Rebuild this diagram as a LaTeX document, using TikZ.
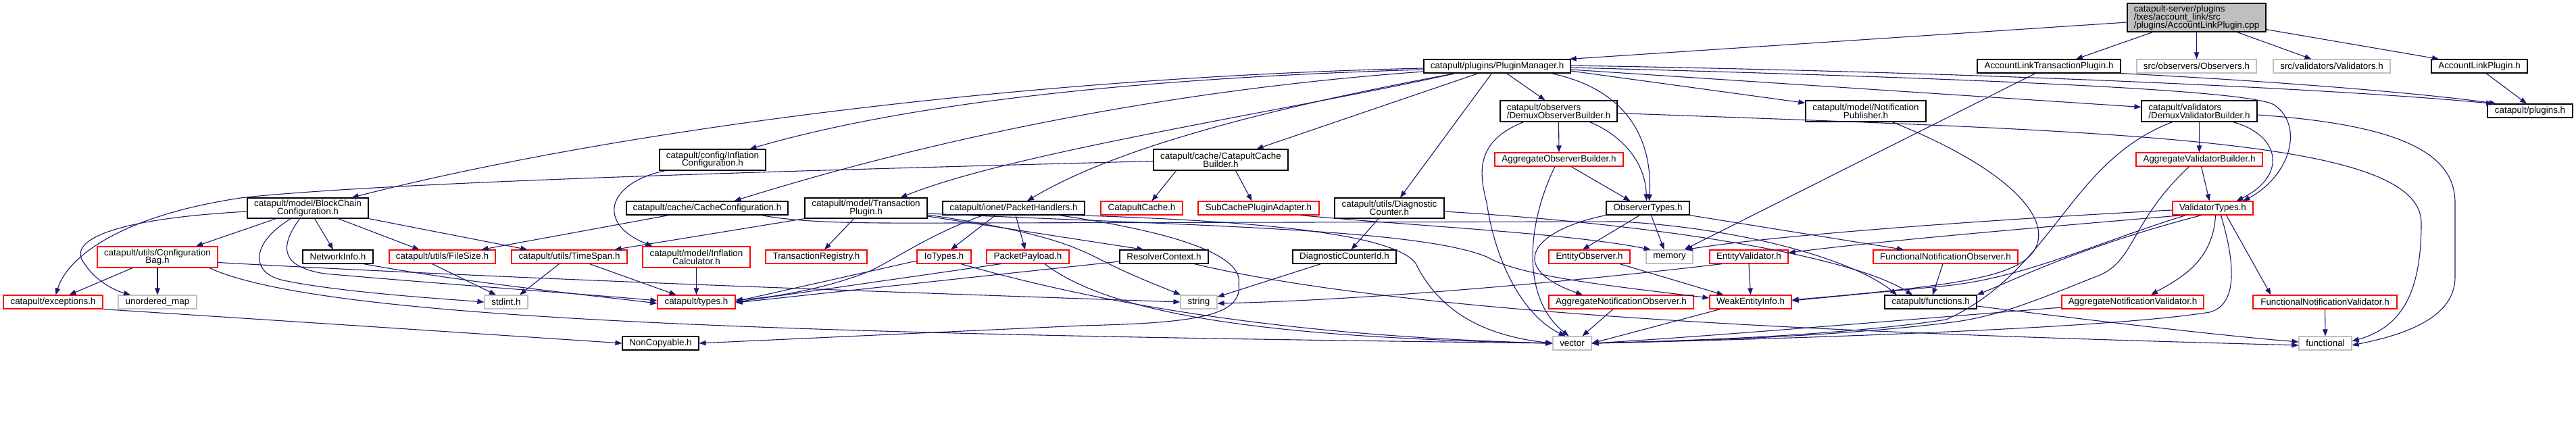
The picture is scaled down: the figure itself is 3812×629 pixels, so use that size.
\documentclass[tikz,border=0pt]{standalone}
\usepackage{fontspec}
\setmainfont{Liberation Sans}
\usetikzlibrary{arrows.meta}
\definecolor{edgec}{HTML}{191970}
\definecolor{grayc}{HTML}{BFBFBF}
\definecolor{redc}{HTML}{FF0000}
\newcommand{\dfont}{\fontsize{13.4}{11.8}\selectfont\lineskiplimit=-20pt\relax}
\begin{document}
\begin{tikzpicture}[x=1pt,y=-1pt,
  box/.style={draw=black, line width=1.2pt, inner sep=0pt, font=\dfont, align=center, text=black},
  rbox/.style={box, draw=redc},
  gbox/.style={box, draw=grayc},
  sz/.style 2 args={minimum width=#1pt, minimum height=#2pt},
  e/.style={draw=edgec, line width=1.1pt, -{Triangle[length=10pt,width=7.5pt]}}]
\useasboundingbox (0,0) rectangle (3812,629);

% ---------- nodes ----------
\node[box, fill=grayc, align=left, sz={205}{42}] (root) at (3250.5,26) {catapult-server/plugins\\/txes/account\_link/src\\/plugins/AccountLinkPlugin.cpp};
\node[box, sz={217}{20}] (pm) at (2215.5,98) {catapult/plugins/PluginManager.h};
\node[box, sz={212}{20}] (altp) at (3032,98) {AccountLinkTransactionPlugin.h};
\node[gbox, sz={177}{20}] (obs) at (3250.5,98) {src/observers/Observers.h};
\node[gbox, sz={173}{20}] (vals) at (3450.5,98) {src/validators/Validators.h};
\node[box, sz={142}{20}] (alp) at (3669,98) {AccountLinkPlugin.h};
\node[box, sz={126}{20}] (plugins) at (3744,164) {catapult/plugins.h};
\node[box, align=left, sz={173}{31}] (dob) at (2306.5,164.5) {catapult/observers\\/DemuxObserverBuilder.h};
\node[box, sz={178}{31}] (np) at (2761,164.5) {catapult/model/Notification\\Publisher.h};
\node[box, align=left, sz={171}{31}] (dvb) at (3254.5,164.5) {catapult/validators\\/DemuxValidatorBuilder.h};
\node[box, sz={157}{31}] (infc) at (1054.5,236.5) {catapult/config/Inflation\\Configuration.h};
\node[box, sz={199}{31}] (ccb) at (1806.5,236.5) {catapult/cache/CatapultCache\\Builder.h};
\node[rbox, sz={190}{20}] (aob) at (2307,236) {AggregateObserverBuilder.h};
\node[rbox, sz={187}{20}] (avb) at (3254.5,236) {AggregateValidatorBuilder.h};
\node[box, sz={179}{30}] (bcc) at (455.5,308) {catapult/model/BlockChain\\Configuration.h};
\node[box, sz={239}{20}] (cc) at (1046.5,308) {catapult/cache/CacheConfiguration.h};
\node[box, sz={181}{30}] (tp) at (1281.5,308) {catapult/model/Transaction\\Plugin.h};
\node[box, sz={210}{20}] (ph) at (1500,308) {catapult/ionet/PacketHandlers.h};
\node[rbox, sz={121}{20}] (ccache) at (1689.5,308) {CatapultCache.h};
\node[rbox, sz={179}{20}] (scpa) at (1862.5,308) {SubCachePluginAdapter.h};
\node[box, sz={162}{30}] (dc) at (2056,308) {catapult/utils/Diagnostic\\Counter.h};
\node[box, sz={123}{20}] (ot) at (2438.5,308) {ObserverTypes.h};
\node[rbox, sz={119}{20}] (vt) at (3274.5,308) {ValidatorTypes.h};
\node[rbox, sz={178}{31}] (cbag) at (233,380.5) {catapult/utils/Configuration\\Bag.h};
\node[box, sz={104}{20}] (ni) at (500,380) {NetworkInfo.h};
\node[rbox, sz={157}{20}] (fs) at (654.5,380) {catapult/utils/FileSize.h};
\node[rbox, sz={171}{20}] (ts) at (842.5,380) {catapult/utils/TimeSpan.h};
\node[rbox, sz={159}{31}] (icalc) at (1030.5,380.5) {catapult/model/Inflation\\Calculator.h};
\node[rbox, sz={150}{20}] (treg) at (1208,380) {TransactionRegistry.h};
\node[rbox, sz={80}{20}] (io) at (1397,380) {IoTypes.h};
\node[rbox, sz={122}{20}] (pp) at (1521,380) {PacketPayload.h};
\node[box, sz={131}{20}] (rc) at (1722.5,380) {ResolverContext.h};
\node[box, sz={153}{20}] (dcid) at (1989.5,380) {DiagnosticCounterId.h};
\node[rbox, sz={120}{20}] (eo) at (2352,380) {EntityObserver.h};
\node[gbox, sz={69}{20}] (mem) at (2470.5,380) {memory};
\node[rbox, sz={116}{20}] (ev) at (2588,380) {EntityValidator.h};
\node[rbox, sz={214}{20}] (fno) at (2879,380) {FunctionalNotificationObserver.h};
\node[rbox, sz={147}{20}] (exc) at (78.5,447) {catapult/exceptions.h};
\node[gbox, sz={116}{20}] (um) at (233,447) {unordered\_map};
\node[gbox, sz={64}{20}] (stdint) at (749,447) {stdint.h};
\node[rbox, sz={115}{20}] (types) at (1030.5,447) {catapult/types.h};
\node[gbox, sz={54}{20}] (string) at (1774,447) {string};
\node[rbox, sz={214}{20}] (ano) at (2399,447) {AggregateNotificationObserver.h};
\node[rbox, sz={121}{20}] (wei) at (2590.5,447) {WeakEntityInfo.h};
\node[box, sz={136}{20}] (fn) at (2857,447) {catapult/functions.h};
\node[rbox, sz={210}{20}] (anv) at (3156,447) {AggregateNotificationValidator.h};
\node[rbox, sz={213}{20}] (fnv) at (3440.5,447) {FunctionalNotificationValidator.h};
\node[box, sz={113}{20}] (nc) at (977.5,508) {NonCopyable.h};
\node[gbox, sz={57}{20}] (vec) at (2326.5,508) {vector};
\node[gbox, sz={78}{20}] (func) at (3441,508) {functional};

% ---------- edges ----------
% root
\draw[e] ([yshift=-7pt]root.west) -- ([xshift=-2pt]pm.north east);
\draw[e] ([xshift=-65pt]root.south) -- ([xshift=40pt]altp.north);
\draw[e] (root.south) -- (obs.north);
\draw[e] ([xshift=60pt]root.south) -- ([xshift=-30pt]vals.north);
\draw[e] ([yshift=4pt]root.south east) -- ([xshift=-60pt]alp.north);
% altp, alp
\draw[e] (altp.south east) .. controls (3400,122) and (3600,140) .. ([xshift=-50pt]plugins.north);
\draw[e] ([xshift=-20pt]altp.south) -- ([xshift=22pt]mem.north);
\draw[e] ([xshift=10pt]alp.south) -- ([xshift=-5pt]plugins.north);
% PluginManager
\draw[e] ([yshift=-3pt]pm.west) .. controls (1500,115) and (900,195) .. ([xshift=65pt]bcc.north);
\draw[e] ([yshift=-5pt]pm.west) .. controls (1600,118) and (1300,165) .. ([xshift=55pt]infc.north);
\draw[e] ([yshift=-8pt]pm.west) .. controls (1700,135) and (1350,215) .. ([xshift=40pt]cc.north);
\draw[e] ([xshift=-62pt]pm.south) .. controls (1900,165) and (1500,225) .. ([xshift=51pt]tp.north);
\draw[e] ([xshift=-62pt]pm.south) .. controls (1850,165) and (1640,225) .. ([xshift=20pt]ph.north);
\draw[e] ([xshift=-28pt]pm.south) -- ([xshift=53pt]ccb.north);
\draw[e] ([xshift=-8pt]pm.south) -- ([xshift=16pt]dc.north);
\draw[e] ([xshift=14pt]pm.south) -- ([xshift=-20pt]dob.north);
\draw[e] ([xshift=80pt]pm.south) .. controls (2420,135) and (2445,220) .. ([xshift=2pt]ot.north);
\draw[e] ([yshift=-7pt]pm.east) -- ([yshift=-4pt]np.north west);
\draw[e] ([yshift=-5pt]pm.east) -- ([yshift=6pt]dvb.west);
\draw[e] ([yshift=-2pt]pm.east) .. controls (3000,118) and (3330,135) .. (3365,155) .. controls (3410,185) and (3390,260) .. ([xshift=45pt]vt.north);
\draw[e] ([yshift=1pt]pm.east) .. controls (3000,108) and (3500,135) .. ([xshift=-55pt]plugins.north);
% BlockChainConfiguration
\draw[e] ([yshift=-5pt]bcc.west) .. controls (150,325) and (100,360) .. (125,390) .. controls (140,415) and (170,430) .. ([xshift=-40pt]um.north);
\draw[e] ([xshift=-47pt]bcc.south) -- ([xshift=57pt]cbag.north);
\draw[e] ([xshift=10pt]bcc.south) -- ([xshift=-7pt]ni.north);
\draw[e] ([xshift=45pt]bcc.south) -- ([xshift=-34pt]fs.north);
\draw[e] (bcc.south east) -- ([xshift=-62pt]ts.north);
\draw[e] ([xshift=-25pt]bcc.south) .. controls (370,360) and (370,405) .. (420,415) .. controls (500,432) and (650,442) .. (stdint.west);
\draw[e] ([xshift=-12pt]bcc.south) .. controls (410,370) and (420,395) .. (480,405) .. controls (650,420) and (900,438) .. ([yshift=2pt]types.west);
% ConfigurationBag
\draw[e] ([xshift=-37pt]cbag.south) -- ([xshift=24pt]exc.north);
\draw[e] (cbag.south) -- (um.north);
\draw[e] ([yshift=-8pt]cbag.east) .. controls (800,415) and (1400,435) .. (string.west);
\draw[e] ([xshift=77pt]cbag.south) .. controls (480,475) and (1200,495) .. (vec.west);
% exceptions, NetworkInfo, FileSize, TimeSpan
\draw[e] (exc.south east) .. controls (500,480) and (800,500) .. (nc.west);
\draw[e] ([xshift=38pt]ni.south) .. controls (700,420) and (900,440) .. ([yshift=-2pt]types.west);
\draw[e] ([xshift=-15pt]fs.south) -- ([xshift=-15pt]stdint.north);
\draw[e] ([xshift=-15pt]ts.south) -- ([xshift=20pt]stdint.north);
\draw[e] ([xshift=30pt]ts.south) -- ([xshift=-30pt]types.north);
% Inflation
\draw[e] ([xshift=-70pt]infc.south) .. controls (900,270) and (880,330) .. ([xshift=-65pt]icalc.north);
\draw[e] (icalc.south) -- (types.north);
% CacheConfiguration
\draw[e] ([xshift=-57pt]cc.south) -- ([xshift=58pt]fs.north);
\draw[e] ([xshift=80pt]cc.south) .. controls (1200,332) and (1300,330) .. (1440,330) -- (2400,328) .. controls (2600,340) and (2750,390) .. ([xshift=-50pt]fn.north);
% TransactionPlugin
\draw[e] ([xshift=-18pt]tp.south) -- ([xshift=12pt]treg.north);
\draw[e] (tp.south west) -- ([xshift=67pt]ts.north);
\draw[e] ([yshift=-12pt]tp.east) -- ([xshift=-30pt]rc.north);
\draw[e] ([yshift=-10pt]tp.east) .. controls (1560,345) and (1600,370) .. (1640,390) .. controls (1680,410) and (1720,425) .. ([xshift=-27pt]string.north);
\draw[e] ([yshift=-8pt]tp.east) .. controls (1800,335) and (2100,340) .. (2200,380) .. controls (2250,410) and (2400,425) .. ([yshift=6pt]wei.west);
% PacketHandlers
\draw[e] ([xshift=-27pt]ph.south) -- ([xshift=10pt]io.north);
\draw[e] ([xshift=3pt]ph.south) -- ([xshift=-4pt]pp.north);
\draw[e] ([xshift=-45pt]ph.south) .. controls (1380,345) and (1330,380) .. (1290,400) .. controls (1230,425) and (1150,440) .. ([yshift=3pt]types.east);
\draw[e] ([xshift=67pt]ph.south) .. controls (1750,345) and (1840,380) .. (1833,420) .. controls (1840,470) and (1760,478) .. (1600,482) -- (nc.east);
\draw[e] ([xshift=90pt]ph.south) .. controls (1800,325) and (2060,340) .. (2095,390) .. controls (2125,450) and (2180,495) .. (vec.west);
% IoTypes, PacketPayload, ResolverContext
\draw[e] ([yshift=-6pt]io.west) -- ([yshift=1pt]types.east);
\draw[e] ([xshift=25pt]io.south) .. controls (1700,470) and (2000,500) .. (vec.west);
\draw[e] ([xshift=-40pt]pp.south) -- (types.east);
\draw[e] ([xshift=25pt]pp.south) .. controls (1650,470) and (1900,500) .. (vec.west);
\draw[e] ([yshift=-7pt]rc.west) -- ([yshift=-1pt]types.east);
\draw[e] ([xshift=45pt]rc.south) .. controls (2100,470) and (2800,495) .. ([yshift=-3pt]func.west);
% DiagnosticCounter
\draw[e] ([xshift=-16pt]dc.south) -- ([xshift=10pt]dcid.north);
\draw[e] ([yshift=-5pt]dc.east) .. controls (2500,335) and (2750,385) .. ([xshift=-27pt]fn.north);
\draw[e] ([xshift=-35pt]dcid.south) -- ([yshift=-3pt]string.north east);
% CatapultCacheBuilder
\draw[e] ([xshift=-66pt]ccb.south) -- ([xshift=15pt]ccache.north);
\draw[e] ([xshift=22pt]ccb.south) -- ([xshift=-10pt]scpa.north);
\draw[e] ([yshift=-2pt]ccb.west) .. controls (1200,252) and (600,268) .. (363,292) .. controls (180,318) and (100,380) .. ([xshift=4pt]exc.north);
\draw[e] ([xshift=62pt]scpa.south) .. controls (2100,335) and (2320,345) .. ([xshift=-28pt]mem.north);
% DemuxObserverBuilder
\draw[e] (dob.south) -- (aob.north);
\draw[e] ([xshift=46pt]dob.south) .. controls (2400,200) and (2435,240) .. ([xshift=-2pt]ot.north);
\draw[e] ([xshift=-52pt]dob.south) .. controls (2180,210) and (2190,260) .. (2200,300) .. controls (2215,400) and (2260,470) .. ([xshift=-10pt]vec.north);
\draw[e] ([yshift=-3pt]dob.east) .. controls (3150,195) and (3583,205) .. (3583,330) .. controls (3583,440) and (3550,485) .. ([yshift=3pt]func.east);
% AggregateObserverBuilder
\draw[e] ([xshift=18pt]aob.south) -- ([xshift=-26pt]ot.north);
\draw[e] ([xshift=-6pt]aob.south) .. controls (2260,330) and (2250,440) .. ([xshift=-5pt]vec.north);
% ObserverTypes
\draw[e] ([xshift=5pt]ot.south) -- ([xshift=-8pt]mem.north);
\draw[e] ([xshift=-12pt]ot.south) -- ([xshift=-10pt]eo.north);
\draw[e] (ot.south west) .. controls (2270,340) and (2225,395) .. ([xshift=-57pt]ano.north);
\draw[e] (ot.south east) -- ([xshift=-62pt]fno.north);
% observers' leaves
\draw[e] ([xshift=45pt]eo.south) -- ([xshift=-40pt]wei.north);
\draw[e] ([xshift=-12pt]ano.south) -- ([xshift=15pt]vec.north);
\draw[e] (ev.south) -- (wei.north);
\draw[e] ([xshift=-40pt]ev.south) .. controls (2300,420) and (2000,445) .. ([yshift=-2pt]string.east);
\draw[e] ([xshift=-4pt]fno.south) -- ([xshift=3pt]fn.north);
\draw[e] ([xshift=-45pt]wei.south) -- (vec.east);
\draw[e] ([yshift=-6pt]fn.east) .. controls (3100,475) and (3300,498) .. ([yshift=2pt]func.west);
\draw[e] ([yshift=-8pt]anv.west) .. controls (2800,475) and (2500,500) .. (vec.east);
\draw[e] (fnv.south) -- (func.north);
% NotificationPublisher
\draw[e] ([xshift=39pt]np.south) .. controls (2950,240) and (3030,310) .. (3015,360) .. controls (3000,410) and (2900,422) .. ([yshift=3pt]wei.east);
% ValidatorTypes
\draw[e] ([yshift=-3pt]vt.west) .. controls (3000,322) and (2650,345) .. ([xshift=24pt]mem.north);
\draw[e] ([xshift=-45pt]vt.south) .. controls (3000,338) and (2800,355) .. ([yshift=6pt]ev.east);
\draw[e] ([xshift=-17pt]vt.south) .. controls (3080,365) and (2990,410) .. (fn.north east);
\draw[e] ([xshift=-40pt]vt.south) .. controls (3100,360) and (3000,410) .. (2880,423) -- ([yshift=2pt]wei.east);
\draw[e] ([xshift=4pt]vt.south) .. controls (3275,390) and (3220,415) .. ([xshift=27pt]anv.north);
\draw[e] ([xshift=20pt]vt.south) -- ([xshift=-80pt]fnv.north);
\draw[e] ([xshift=12pt]vt.south) .. controls (3305,380) and (3315,450) .. (3270,462) .. controls (3100,490) and (2500,505) .. (vec.east);
% DemuxValidatorBuilder
\draw[e] (dvb.south) -- (avb.north);
\draw[e] ([xshift=50pt]dvb.south) .. controls (3375,200) and (3385,260) .. ([xshift=35pt]vt.north);
\draw[e] ([xshift=-40pt]dvb.south) .. controls (3060,240) and (3040,400) .. (2880,473) .. controls (2700,500) and (2450,505) .. (vec.east);
\draw[e] ([yshift=-5.5pt]dvb.east) .. controls (3560,185) and (3633,230) .. (3633,300) -- (3633,410) .. controls (3633,470) and (3560,495) .. ([yshift=-3pt]func.east);
% AggregateValidatorBuilder
\draw[e] ([xshift=3pt]avb.south) -- ([xshift=-5pt]vt.north);
\draw[e] ([xshift=-15pt]avb.south) .. controls (3150,330) and (3160,390) .. (3100,410) .. controls (3000,450) and (2950,470) .. (2880,478) .. controls (2700,500) and (2450,506) .. (vec.east);
\end{tikzpicture}
\end{document}
